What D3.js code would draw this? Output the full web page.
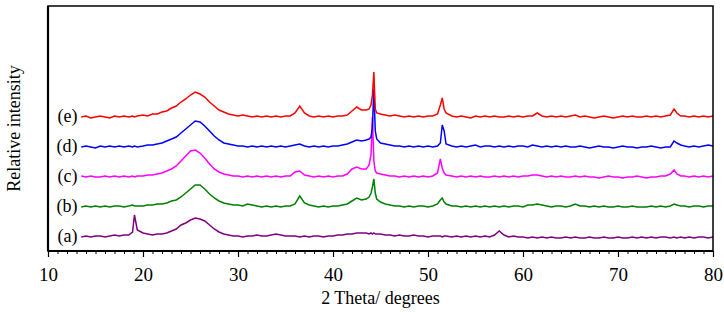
<!DOCTYPE html>
<html>
<head>
<meta charset="utf-8">
<script src="https://cdn.jsdelivr.net/npm/d3@7"></script>
<style>
  html, body { margin: 0; padding: 0; background: #fff; }
  svg { display: block; }
  text { font-family: "Liberation Serif", "Times New Roman", serif; fill: #000; }
</style>
</head>
<body>
<svg id="chart" width="724" height="312"></svg>
<script>
// 2 theta sampling positions (degrees)
const TWO_THETA = [
  13.5, 14, 14.5, 15, 15.5, 16, 16.5, 17, 17.5, 18, 18.5,
  18.9, 19.1, 19.4,
  20, 20.5, 21, 21.5, 22, 22.5, 23, 23.5, 24, 24.5, 25, 25.5, 26, 26.5, 27, 27.5,
  28, 28.5, 29, 29.5, 30, 30.5, 31, 31.5, 32, 32.5, 33, 33.5, 34, 34.5, 35, 35.5,
  36, 36.5, 37, 37.5, 38, 38.5, 39, 39.5, 40, 40.5, 41, 41.5, 42, 42.5, 43, 43.5,
  43.8, 44.0, 44.15, 44.3, 44.45, 44.6,
  45, 45.5, 46, 46.5, 47, 47.5, 48, 48.5, 49, 49.5, 50, 50.5, 51,
  51.3, 51.5, 51.7, 51.9,
  52.5, 53, 53.5, 54, 54.5, 55, 55.5, 56, 56.5, 57, 57.5, 58, 58.5, 59, 59.5, 60,
  60.5, 61, 61.5, 62, 62.5, 63, 63.5, 64, 64.5, 65, 65.5, 66, 66.5, 67, 67.5, 68,
  68.5, 69, 69.5, 70, 70.5, 71, 71.5, 72, 72.5, 73, 73.5, 74, 74.5, 75, 75.5,
  75.9, 76.2, 76.6,
  77, 77.5, 78, 78.5, 79, 79.5, 80
];

// intensities above each trace's own baseline (arbitrary units)
const INTENSITY_A = [
  0, 1, 0, 1, 1, 0, 1, 2, 1, 2, 2,
  5, 22, 7,
  4, 3, 2, 3, 3, 4, 6, 8, 12, 14, 17, 19, 18, 16, 12, 8,
  5, 3, 2, 1, 1, 0, 1, 1, 2, 1, 1, 2, 3, 2, 1, 1,
  1, 0, 1, 0, 1, 1, 0, 1, 1, 2, 2, 3, 3, 4, 4, 4,
  3, 4, 3, 4, 3, 3,
  3, 2, 2, 1, 2, 1, 1, 2, 1, 1, 0, 1, 1,
  1, 0, 1, 1,
  0, 1, 0, 1, 0, 1, 0, 1, 0, 2, 6, 2, 0, 1, 0, 0,
  -1, 0, -1, 0, -1, 0, -1, -1, 0, -1, 0, -1, -1, 0, -1, -1,
  0, -1, -1, 0, -1, -1, 0, -1, 0, -1, 0, -1, 0, 0, -1,
  0, -1, 0,
  -1, 0, -1, 0, 0, -1, 0
];

const INTENSITY_B = [
  0, 1, 0, 1, 0, 1, 0, 1, 1, 0, 1,
  2, 1, 1,
  1, 2, 2, 3, 3, 4, 6, 7, 10, 14, 18, 22, 22, 18, 13, 9,
  6, 4, 3, 2, 2, 1, 3, 2, 1, 0, 1, 0, 1, 0, 1, 1,
  3, 11, 4, 2, 1, 0, 1, 0, 1, 1, 2, 3, 6, 9, 7, 8,
  10, 14, 20, 28, 14, 8,
  5, 3, 2, 1, 1, 0, 1, 0, 1, 1, 0, 1, 3,
  7, 9, 5, 3,
  1, 1, 0, 1, 0, 1, 0, 1, 0, 1, 0, 1, 0, 1, 1, 0,
  2, 2, 3, 2, 1, 0, 1, 1, 0, 1, 3, 1, 1, 0, 1, 0,
  1, 0, 0, 1, 0, 0, 1, 0, 0, 0, 1, 0, 1, 0, 1,
  3, 2, 1,
  1, 0, 1, 1, 0, 1, 1
];

const INTENSITY_C = [
  1, 0, 1, 0, 0, 1, 0, 1, 0, 1, 0,
  1, 0, 1,
  1, 2, 2, 3, 4, 6, 8, 11, 16, 21, 26, 27, 24, 19, 13, 8,
  5, 3, 2, 1, 1, 0, 1, 0, 1, 0, 1, 0, 1, 0, 1, 1,
  5, 6, 2, 1, 0, 1, 0, 1, 0, 1, 1, 3, 8, 10, 8, 8,
  12, 22, 60, 16, 6, 4,
  3, 2, 1, 1, 0, 1, 0, 1, 0, 1, 0, 1, 4,
  18, 9, 4, 2,
  1, 0, 1, 0, 1, 0, 1, 0, 0, 1, 0, 1, 0, 1, 0, 1,
  1, 2, 2, 1, 0, 1, 0, 1, 0, 0, 1, 0, 1, 0, 0, -1,
  0, 1, 0, 0, -1, 0, 0, 1, 0, -1, 0, 0, 1, 1, 3,
  7, 3, 1,
  1, 0, 1, 0, 1, 0, 1
];

const INTENSITY_D = [
  0, 1, 0, -1, 1, 0, 1, 0, 1, 0, 1,
  0, 1, 0,
  1, 2, 2, 3, 4, 6, 8, 10, 14, 18, 22, 26, 25, 21, 16, 11,
  7, 4, 3, 2, 1, 1, 0, 1, 0, 1, 0, 1, 0, 1, 0, 1,
  2, 3, 1, 0, 1, 0, 1, 0, 1, 1, 2, 3, 5, 7, 6, 7,
  8, 10, 20, 58, 16, 8,
  4, 3, 2, 1, 1, 0, 1, 0, 1, 0, 1, 0, 1,
  4, 22, 16, 3,
  1, 0, 1, 0, 1, 2, 0, 1, 1, 0, 1, 0, 1, 0, 1, 1,
  0, 2, 1, 0, 1, 0, 1, 0, 1, 0, 0, 1, 0, -1, 0, 1,
  0, 0, -1, 0, 1, 0, 0, -1, 0, 0, 1, 0, -1, 0, 0,
  6, 4, 2,
  1, 0, 1, 0, 1, 2, 1
];

const INTENSITY_E = [
  0, 1, -1, 0, 1, 0, -1, 1, 0, 1, 0,
  1, 0, 1,
  2, 1, 3, 3, 5, 6, 9, 11, 15, 18, 22, 25, 23, 20, 15, 11,
  7, 5, 3, 2, 1, 2, 1, 0, 1, 0, 1, 0, 1, 0, 1, 1,
  4, 11, 4, 1, 0, 1, 0, 1, 0, 1, 1, 2, 6, 10, 7, 7,
  8, 12, 22, 45, 8, 4,
  3, 2, 1, 2, 1, 0, 1, 0, 1, 0, 1, 1, 3,
  12, 19, 8, 4,
  1, 0, 1, 0, -1, 1, 0, 1, 0, 1, 0, 0, 1, 0, 1, 0,
  1, 1, 4, 1, 0, 1, 0, 1, 0, 1, 2, 0, 1, 0, -1, 0,
  1, 0, -1, 0, 1, 0, 1, 0, 0, 1, 0, 1, 0, 1, 2,
  8, 4, 1,
  1, 0, 1, 0, 1, 0, 1
];

const SAMPLE_LABELS = ['(a)', '(b)', '(c)', '(d)', '(e)'];
const SAMPLE_SERIES = [INTENSITY_A, INTENSITY_B, INTENSITY_C, INTENSITY_D, INTENSITY_E];
const SAMPLE_OFFSETS = [14, 44, 74, 104, 134];
const X_TICKS = [10, 20, 30, 40, 50, 60, 70, 80];

const COLORS = ['#800080', '#008000', '#ff00ff', '#0000ff', '#ff0000'];

SAMPLE_SERIES.forEach((s, i) => {
  if (s.length !== TWO_THETA.length) {
    throw new Error(`series ${SAMPLE_LABELS[i]} has ${s.length} points, expected ${TWO_THETA.length}`);
  }
});

const margin = { top: 6, right: 11, bottom: 61, left: 48 };
const width = 724 - margin.left - margin.right;
const height = 312 - margin.top - margin.bottom;

const svg = d3.select('#chart');
const g = svg.append('g').attr('transform', `translate(${margin.left},${margin.top})`);

const x = d3.scaleLinear().domain([10, 80]).range([0, width]);
const y = d3.scaleLinear().domain([0, height]).range([height, 0]);

// bottom axis: minor ticks every degree, labels every 10
g.append('g')
  .attr('transform', `translate(0,${height})`)
  .call(d3.axisBottom(x).tickValues(d3.range(10, 81, 1)).tickSize(3).tickFormat(''))
  .call(a => a.select('.domain').remove())
  .call(a => a.selectAll('line').attr('stroke', '#000').attr('stroke-width', 1));

const majorAxis = g.append('g')
  .attr('transform', `translate(0,${height})`)
  .call(d3.axisBottom(x).tickValues(X_TICKS).tickSize(6).tickPadding(11).tickFormat(d3.format('d')));
majorAxis.select('.domain').remove();
majorAxis.selectAll('line').attr('stroke', '#000').attr('stroke-width', 1.2);
majorAxis.selectAll('text')
  .attr('font-size', '19px')
  .attr('font-family', '"Liberation Serif", serif')
  .attr('fill', '#000');

// traces
const line = d3.line()
  .x(d => x(d[0]))
  .y(d => y(d[1]));

SAMPLE_SERIES.forEach((series, i) => {
  const pts = TWO_THETA.map((t, j) => [t, series[j] + SAMPLE_OFFSETS[i]]);
  g.append('path')
    .datum(pts)
    .attr('fill', 'none')
    .attr('stroke', COLORS[i])
    .attr('stroke-width', 1.5)
    .attr('stroke-linejoin', 'miter')
    .attr('d', line);

  g.append('text')
    .attr('x', x(13.1))
    .attr('y', y(SAMPLE_OFFSETS[i]) + 5)
    .attr('text-anchor', 'end')
    .attr('font-size', '18px')
    .text(SAMPLE_LABELS[i]);
});

// frame
g.append('rect')
  .attr('width', width)
  .attr('height', height)
  .attr('fill', 'none')
  .attr('stroke', '#000')
  .attr('stroke-width', 1.5);
g.append('line')
  .attr('x1', 0).attr('x2', 0).attr('y1', 0).attr('y2', height)
  .attr('stroke', '#000').attr('stroke-width', 2.2);
g.append('line')
  .attr('x1', 0).attr('x2', width).attr('y1', height).attr('y2', height)
  .attr('stroke', '#000').attr('stroke-width', 2);

// axis titles
svg.append('text')
  .attr('x', margin.left + width / 2)
  .attr('y', 304)
  .attr('text-anchor', 'middle')
  .attr('font-size', '18px')
  .text('2 Theta/ degrees');

svg.append('text')
  .attr('transform', `translate(20,${margin.top + height / 2}) rotate(-90)`)
  .attr('text-anchor', 'middle')
  .attr('font-size', '18px')
  .text('Relative intensity');
</script>
</body>
</html>
